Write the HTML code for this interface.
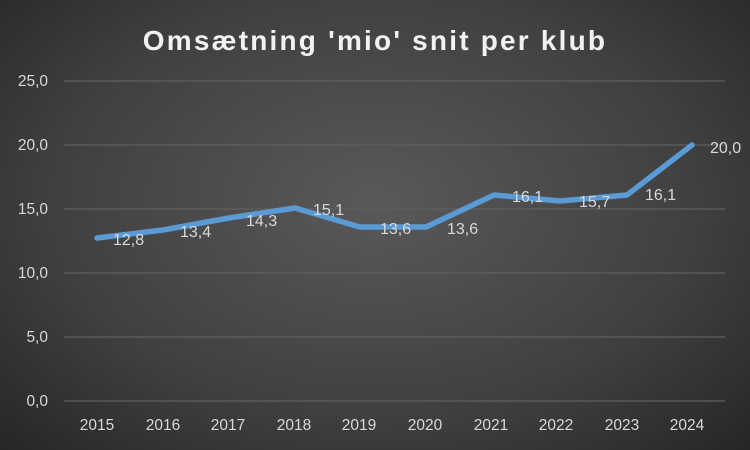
<!DOCTYPE html>
<html><head><style>
body{margin:0;}
#c{width:750px;height:450px;position:relative;overflow:hidden;background:radial-gradient(ellipse at 50% 45%,#595959 0%,#404040 60%,#262626 100%);font-family:"Liberation Sans",sans-serif;}
</style></head><body><div id="c">
<svg width="750" height="450" xmlns="http://www.w3.org/2000/svg">
<text x="375" y="50" text-anchor="middle" fill="#f2f2f2" font-size="28" font-weight="bold" letter-spacing="2.2" font-family="Liberation Sans, sans-serif">Omsætning 'mio' snit per klub</text>
<g stroke="#5f5f5f" stroke-width="1.2">
<line x1="64" x2="725" y1="81" y2="81"/><line x1="64" x2="725" y1="145" y2="145"/>
<line x1="64" x2="725" y1="209" y2="209"/><line x1="64" x2="725" y1="273" y2="273"/>
<line x1="64" x2="725" y1="337" y2="337"/><line x1="64" x2="725" y1="401" y2="401"/>
</g>
<g fill="#d9d9d9" font-size="15.5" text-anchor="end" font-family="Liberation Sans, sans-serif">
<text x="48" y="86">25,0</text><text x="48" y="150">20,0</text><text x="48" y="214">15,0</text>
<text x="48" y="278">10,0</text><text x="48" y="342">5,0</text><text x="48" y="406">0,0</text>
</g>
<g fill="#d9d9d9" font-size="15.5" text-anchor="middle" font-family="Liberation Sans, sans-serif">
<text x="97" y="430">2015</text><text x="163" y="430">2016</text><text x="228" y="430">2017</text>
<text x="294" y="430">2018</text><text x="359" y="430">2019</text><text x="425" y="430">2020</text>
<text x="491" y="430">2021</text><text x="556" y="430">2022</text><text x="622" y="430">2023</text>
<text x="687" y="430">2024</text>
</g>
<polyline points="97,238 163,230 229,218 295,208 360,227 426,227 494,195 560,201 627,195 692,145" fill="none" stroke="#5b9bd5" stroke-width="5.5" stroke-linecap="round" stroke-linejoin="round"/>
<g fill="#d9d9d9" font-size="16" font-family="Liberation Sans, sans-serif">
<text x="113" y="245">12,8</text><text x="180" y="237">13,4</text><text x="246" y="226">14,3</text>
<text x="313" y="215">15,1</text><text x="380" y="234">13,6</text><text x="447" y="234">13,6</text>
<text x="512" y="202">16,1</text><text x="579" y="207">15,7</text><text x="645" y="200">16,1</text>
<text x="710" y="153">20,0</text>
</g>
</svg>
</div></body></html>
